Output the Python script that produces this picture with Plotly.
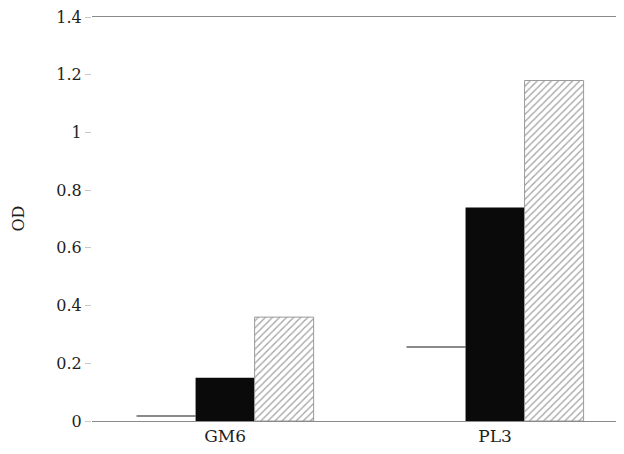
import plotly.graph_objects as go

categories = ["GM6", "PL3"]
series_white = [0.02, 0.26]
series_black = [0.15, 0.74]
series_hatched = [0.36, 1.18]
y_ticks = [0, 0.2, 0.4, 0.6, 0.8, 1, 1.2, 1.4]

edge = 0.006  # thickness of the visible top edge of the white bars

font_family = "DejaVu Serif, Liberation Serif, serif"
txt = "#1e1e1e"

fig = go.Figure()
fig.add_trace(go.Bar(
    x=categories, y=series_white, offsetgroup="w",
    marker=dict(color="white", line=dict(width=0)), name="white",
))
fig.add_trace(go.Bar(
    x=categories, y=[edge] * len(series_white),
    base=[v - edge for v in series_white], offsetgroup="w",
    marker=dict(color="#8a8a8a", line=dict(width=0)), showlegend=False,
))
fig.add_trace(go.Bar(
    x=categories, y=series_black, offsetgroup="b",
    marker=dict(color="#0a0a0a", line=dict(width=0)), name="black",
))
fig.add_trace(go.Bar(
    x=categories, y=series_hatched, offsetgroup="h",
    marker=dict(color="white",
                line=dict(color="#9a9a9a", width=1),
                pattern=dict(shape="/", fgcolor="#444444", bgcolor="white",
                             size=5, solidity=0.25)),
    name="hatched",
))

# page has an 8px body margin; keep the figure inside the window
fig.update_layout(
    width=608, height=438,
    margin=dict(l=84, r=0, t=9, b=25),
    paper_bgcolor="white", plot_bgcolor="white",
    barmode="group", bargap=0.344, bargroupgap=0,
    showlegend=False,
    font=dict(family=font_family, size=17, color=txt),
)
fig.update_xaxes(
    range=[-0.493, 1.448], showgrid=False, zeroline=False,
    showline=True, mirror=True, linecolor="#8a8a8a", linewidth=1,
    ticks="", automargin=False,
    tickfont=dict(family=font_family, size=17, color=txt),
)
fig.update_yaxes(
    range=[0, 1.4], tickvals=y_ticks, showgrid=False, zeroline=False,
    showline=False, ticks="outside", ticklen=6, tickcolor="#c8c8c8",
    automargin=False, ticklabeloverflow="allow",
    tickfont=dict(family=font_family, size=16, color=txt),
)
fig.add_annotation(
    text="OD", xref="paper", yref="paper", x=-0.142, y=0.5,
    xanchor="center", yanchor="middle", textangle=-90, showarrow=False,
    font=dict(family=font_family, size=16, color=txt),
)

fig.write_html("out.html")
